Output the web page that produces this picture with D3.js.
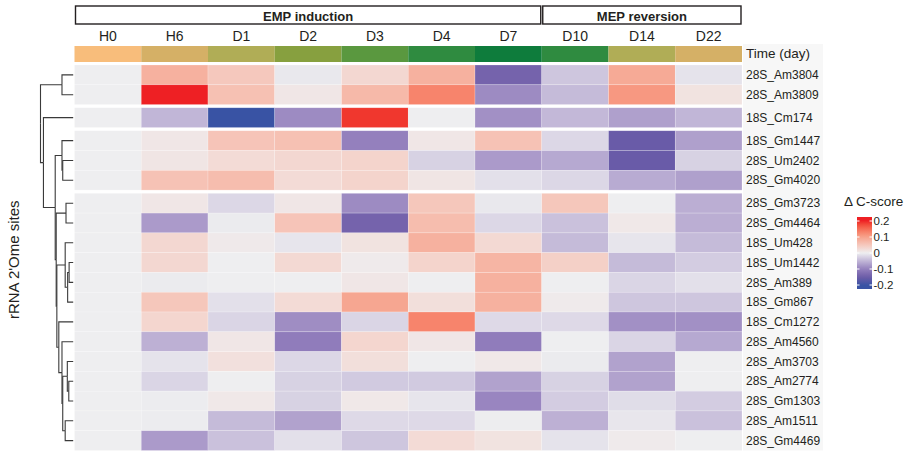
<!DOCTYPE html>
<html>
<head>
<meta charset="utf-8">
<script src="https://cdn.jsdelivr.net/npm/d3@7"></script>
<style>
  body { margin: 0; background: #fff; }
  svg { font-family: "Liberation Sans", Arial, Helvetica, sans-serif; }
</style>
</head>
<body>
<div id="chart"></div>
<script>
// time points (columns)
const timePoints = ["H0", "H6", "D1", "D2", "D3", "D4", "D7", "D10", "D14", "D22"];
const phases = ["EMP induction", "MEP reversion"];
const phaseOfTime = ["EMP induction", "EMP induction", "EMP induction", "EMP induction", "EMP induction",
  "EMP induction", "EMP induction", "MEP reversion", "MEP reversion", "MEP reversion"];

// 2'Ome sites (rows, in dendrogram order) and their row cluster
const sites = ["28S_Am3804", "28S_Am3809", "18S_Cm174", "18S_Gm1447", "28S_Um2402", "28S_Gm4020",
  "28S_Gm3723", "28S_Gm4464", "18S_Um428", "18S_Um1442", "28S_Am389", "18S_Gm867", "18S_Cm1272",
  "28S_Am4560", "28S_Am3703", "28S_Am2774", "28S_Gm1303", "28S_Am1511", "28S_Gm4469"];
const siteCluster = [0, 0, 1, 2, 2, 2, 3, 3, 3, 3, 3, 3, 3, 3, 3, 3, 3, 3, 3];

// delta C-score, one array per site, columns follow timePoints
const deltaC = [
  [0, 0.08, 0.05, -0.005, 0.03, 0.08, -0.14, -0.035, 0.09, -0.01],
  [0, 0.20, 0.06, 0.01, 0.07, 0.13, -0.09, -0.045, 0.11, 0.015],
  [0, -0.05, -0.20, -0.09, 0.19, 0, -0.085, -0.048, -0.07, -0.05],
  [0, 0.01, 0.055, 0.06, -0.10, 0.01, 0.058, -0.02, -0.155, -0.07],
  [0, 0.012, 0.025, 0.03, 0.035, -0.025, -0.075, -0.062, -0.155, -0.025],
  [0, 0.058, 0.065, 0.025, 0.035, 0.012, -0.012, -0.02, -0.06, -0.07],
  [0, 0.01, -0.02, 0.01, -0.09, 0.052, -0.005, 0.052, 0, -0.057],
  [0, -0.075, -0.003, 0.055, -0.14, 0.065, -0.02, -0.04, 0.008, -0.057],
  [0, 0.03, 0.006, -0.008, 0.015, 0.08, 0.028, -0.045, -0.008, -0.045],
  [0, 0.03, 0, 0.028, 0.005, 0.035, 0.075, 0.04, -0.045, -0.03],
  [0, -0.003, 0, 0, 0.01, 0, 0.08, 0, -0.022, -0.012],
  [0, 0.052, -0.012, 0.025, 0.095, 0.02, 0.08, 0.005, -0.035, -0.035],
  [0, 0.032, -0.022, -0.088, -0.022, 0.13, -0.018, -0.018, -0.085, -0.085],
  [0, -0.055, 0.01, -0.105, 0.032, 0.01, -0.105, 0, -0.022, -0.062],
  [0, -0.01, 0.018, -0.02, 0.02, 0, 0.008, -0.003, -0.068, 0],
  [0, -0.022, 0, -0.025, -0.032, -0.032, -0.068, -0.025, -0.068, 0],
  [0, -0.002, 0.008, -0.025, 0.008, -0.008, -0.095, -0.03, -0.015, -0.03],
  [0, -0.002, -0.045, -0.068, -0.018, -0.018, -0.001, -0.055, -0.007, -0.04],
  [0, -0.075, -0.04, -0.012, -0.035, 0.025, 0.015, -0.01, 0.005, 0]
];

// row dendrogram (merge heights, root = 1)
const dendro = {h: 1.0, children: [
  {h: 0.343, children: [{name: "28S_Am3804"}, {name: "28S_Am3809"}]},
  {h: 0.91, children: [
    {name: "18S_Cm174"},
    {h: 0.55, children: [
      {h: 0.343, children: [{name: "18S_Gm1447"}, {h: 0.32, children: [{name: "28S_Um2402"}, {name: "28S_Gm4020"}]}]},
      {h: 0.52, children: [
        {h: 0.22, children: [{name: "28S_Gm3723"}, {name: "28S_Gm4464"}]},
        {h: 0.50, children: [
          {h: 0.245, children: [{name: "18S_Um428"},
            {h: 0.17, children: [{h: 0.125, children: [{name: "18S_Um1442"}, {name: "28S_Am389"}]}, {name: "18S_Gm867"}]}]},
          {h: 0.44, children: [
            {name: "18S_Cm1272"},
            {h: 0.343, children: [
              {name: "28S_Am4560"},
              {h: 0.32, children: [
                {h: 0.18, children: [{name: "28S_Am3703"}, {h: 0.135, children: [{name: "28S_Am2774"}, {name: "28S_Gm1303"}]}]},
                {h: 0.245, children: [{name: "28S_Am1511"}, {name: "28S_Gm4469"}]}
              ]}
            ]}
          ]}
        ]}
      ]}
    ]}
  ]}
]};

const legendTicks = [0.2, 0.1, 0, -0.1, -0.2];

// ---- styles / layout ----
const timeFill = {H0: "#f8bd7b", H6: "#d5b066", D1: "#b0ad56", D2: "#87a03f", D3: "#5a983f",
  D4: "#2f8b40", D7: "#0e7c3c", D10: "#2f8b40", D14: "#b0ad56", D22: "#d5b066"};
const width = 906, height = 451;
const hmLeft = 74.5, hmRight = 742;
const hmTop = 65, hmBottom = 450.5, gap = 3.2;
const textCol = "#231f20";

const svg = d3.select("#chart").append("svg")
  .attr("width", width).attr("height", height);

const x = d3.scaleBand().domain(timePoints).range([hmLeft, hmRight]);
const rowH = (hmBottom - hmTop - gap * d3.max(siteCluster)) / sites.length;
const yBand = d3.scaleBand().domain(sites).range([0, rowH * sites.length]);
const rowY = s => hmTop + yBand(s) + gap * siteCluster[sites.indexOf(s)];

const color = d3.scaleLinear()
  .domain([-0.2, -0.15, -0.1, 0, 0.1, 0.2])
  .range(["#3953a4", "#6d5ca8", "#9480bd", "#eeeef0", "#f6a28c", "#ee2024"])
  .interpolate(d3.interpolateLab)
  .clamp(true);

// faint label panel
svg.append("rect")
  .attr("x", hmRight + 1).attr("y", 44).attr("width", 80).attr("height", hmBottom - 44)
  .attr("fill", "#f7f7f7");

// phase header boxes
phases.forEach(p => {
  const cols = timePoints.filter((t, i) => phaseOfTime[i] === p);
  const x0 = x(cols[0]) + 1, x1 = x(cols[cols.length - 1]) + x.bandwidth() - 1;
  svg.append("rect")
    .attr("x", x0).attr("y", 6).attr("width", x1 - x0).attr("height", 18)
    .attr("fill", "none").attr("stroke", "#231f20").attr("stroke-width", 1.4);
  svg.append("text")
    .attr("x", (x0 + x1) / 2).attr("y", 20.5)
    .attr("text-anchor", "middle").attr("font-size", 13).attr("font-weight", "bold")
    .attr("fill", textCol).text(p);
});

// column labels
svg.selectAll(".colLabel")
  .data(timePoints)
  .enter()
  .append("text")
  .attr("class", "colLabel")
  .attr("x", d => x(d) + x.bandwidth() / 2)
  .attr("y", 41)
  .attr("text-anchor", "middle")
  .attr("font-size", 14)
  .attr("fill", textCol)
  .text(d => d);

// time annotation bar
svg.selectAll(".timeCell")
  .data(timePoints)
  .enter()
  .append("rect")
  .attr("class", "timeCell")
  .attr("x", d => x(d)).attr("y", 46)
  .attr("width", x.bandwidth()).attr("height", 16)
  .attr("fill", d => timeFill[d]);

svg.append("text")
  .attr("x", hmRight + 4).attr("y", 58)
  .attr("font-size", 13.5).attr("fill", textCol)
  .text("Time (day)");

// heatmap cells
const cells = [];
sites.forEach((s, i) => timePoints.forEach((t, j) => cells.push({site: s, time: t, v: deltaC[i][j]})));

svg.selectAll(".cell")
  .data(cells)
  .enter()
  .append("rect")
  .attr("class", "cell")
  .attr("x", d => x(d.time))
  .attr("y", d => rowY(d.site))
  .attr("width", x.bandwidth())
  .attr("height", yBand.bandwidth())
  .attr("fill", d => color(d.v))
  .attr("stroke", "#ffffff")
  .attr("stroke-opacity", 0.35)
  .attr("stroke-width", 0.6);

// row labels
svg.selectAll(".rowLabel")
  .data(sites)
  .enter()
  .append("text")
  .attr("class", "rowLabel")
  .attr("x", hmRight + 4)
  .attr("y", d => rowY(d) + yBand.bandwidth() / 2 + 4.2)
  .attr("font-size", 12)
  .attr("fill", textCol)
  .text(d => d);

// dendrogram
const xDen = d3.scaleLinear().domain([0, 1]).range([73.2, 40.5]);
const root = d3.hierarchy(dendro);
root.eachAfter(n => {
  if (!n.children) {
    n.py = rowY(n.data.name) + yBand.bandwidth() / 2;
    n.px = xDen(0);
  } else {
    n.py = d3.mean(n.children, c => c.py);
    n.px = xDen(n.data.h);
  }
});

svg.append("g")
  .selectAll("path")
  .data(root.links())
  .enter()
  .append("path")
  .attr("d", l => `M${l.source.px},${l.source.py}V${l.target.py}H${l.target.px}`)
  .attr("fill", "none")
  .attr("stroke", "#3a3a3a")
  .attr("stroke-width", 1.1);

// y axis title
svg.append("text")
  .attr("transform", `translate(19, ${(hmTop + hmBottom) / 2 + 2}) rotate(-90)`)
  .attr("text-anchor", "middle")
  .attr("font-size", 15)
  .attr("fill", textCol)
  .text("rRNA 2'Ome sites");

// legend
const legY = d3.scaleLinear().domain([-0.225, 0.225]).range([289, 217]);
const barX = 857, barW = 15;
const grad = svg.append("defs").append("linearGradient")
  .attr("id", "legGrad").attr("x1", 0).attr("x2", 0).attr("y1", 1).attr("y2", 0);
d3.range(0, 1.0001, 0.05).forEach(t => {
  grad.append("stop")
    .attr("offset", t)
    .attr("stop-color", color(-0.225 + 0.45 * t));
});

svg.append("text")
  .attr("x", 844).attr("y", 206)
  .attr("font-size", 13.5).attr("fill", textCol)
  .text("\u0394 C-score");

svg.append("rect")
  .attr("x", barX).attr("y", legY(0.225))
  .attr("width", barW).attr("height", legY(-0.225) - legY(0.225))
  .attr("fill", "url(#legGrad)");

svg.selectAll(".legTickL")
  .data(legendTicks)
  .enter()
  .append("line")
  .attr("x1", barX).attr("x2", barX + 2.5)
  .attr("y1", d => legY(d)).attr("y2", d => legY(d))
  .attr("stroke", "#fff").attr("stroke-width", 1);

svg.selectAll(".legTickR")
  .data(legendTicks)
  .enter()
  .append("line")
  .attr("x1", barX + barW - 2.5).attr("x2", barX + barW)
  .attr("y1", d => legY(d)).attr("y2", d => legY(d))
  .attr("stroke", "#fff").attr("stroke-width", 1);

svg.selectAll(".legLabel")
  .data(legendTicks)
  .enter()
  .append("text")
  .attr("class", "legLabel")
  .attr("x", barX + barW + 1.5)
  .attr("y", d => legY(d) + 4)
  .attr("font-size", 11.5)
  .attr("fill", textCol)
  .text(d => String(d));
</script>
</body>
</html>
